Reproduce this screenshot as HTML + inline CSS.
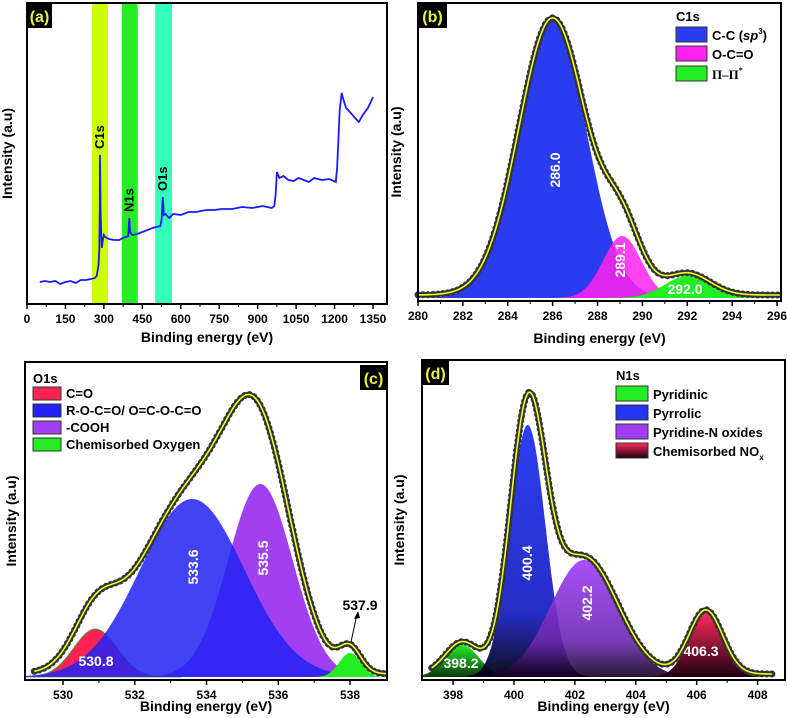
<!DOCTYPE html>
<html><head><meta charset="utf-8"><style>
html,body{margin:0;padding:0;background:#fff;}
svg{display:block;font-family:"Liberation Sans",sans-serif;font-weight:bold;}
</style></head><body>
<svg id="fig" width="787" height="718" viewBox="0 0 787 718">
<defs>
<linearGradient id="gGreen" x1="0" y1="0" x2="0" y2="1"><stop offset="0" stop-color="#22ee22"/><stop offset="1" stop-color="#0a3a0a"/></linearGradient>
<linearGradient id="gBlue" x1="0" y1="0" x2="0" y2="1"><stop offset="0" stop-color="#2235f5"/><stop offset="0.75" stop-color="#1a22c0"/><stop offset="1" stop-color="#000010"/></linearGradient>
<linearGradient id="gPurple" x1="0" y1="0" x2="0" y2="1"><stop offset="0" stop-color="#a03cf5"/><stop offset="0.7" stop-color="#6a28b0"/><stop offset="1" stop-color="#100020"/></linearGradient>
<linearGradient id="gRed" x1="0" y1="0" x2="0" y2="1"><stop offset="0" stop-color="#ff2a5a"/><stop offset="1" stop-color="#200010"/></linearGradient>
</defs>
</svg>
<script>
// ---------- Panel (a) survey data ----------
const surveyE = [50,70,90,110,130,150,170,190,210,230,250,265,272,276,279,282,284,285,287,289,292,296,300,305,320,340,360,375,385,395,399,402,410,430,450,470,490,520,525,530,534,540,555,570,600,630,660,700,730,760,800,840,880,920,955,965,970,975,985,1000,1020,1040,1060,1080,1100,1120,1150,1180,1205,1210,1215,1220,1228,1235,1245,1260,1280,1295,1310,1330,1345,1350];
const surveyI = [22,23,22,23,20,22,23,21,24,24,25,26,28,34,39,54,99,149,94,74,56,64,69,67,65,64,64,66,67,68,86,72,69,70,72,74,76,78,84,107,89,90,86,90,89,92,92,94,94,95,95,97,96,98,96,98,109,132,126,128,124,123,126,124,122,126,124,125,122,136,164,194,211,204,196,192,186,182,189,196,204,207];
const aTicks = [0,150,300,450,600,750,900,1050,1200,1350];
const aBandLabels = ["C1s","N1s","O1s"];
const aBandStart = [254,370,500];
const aBandEnd = [316,432,566];
const aPeakE = [285,399,530];

// ---------- Panel (b) C1s ----------
const bCenters = [286.0,289.1,292.0];
const bHeights = [277,62,22];
const bSigmas = [1.5,0.85,1.0];
const bLabels = ["286.0","289.1","292.0"];
const bTicks = [280,282,284,286,288,290,292,294,296];
const bLegend = ["C-C (sp3)","O-C=O","Π–Π*"];

// ---------- Panel (c) O1s ----------
const cCenters = [530.9,533.6,535.5,538.0];
const cHeights = [48,178,193,24];
const cSigmas = [0.6,1.45,0.9,0.3];
const cLabels = ["530.8","533.6","535.5","537.9"];
const cTicks = [530,532,534,536,538];
const cLegend = ["C=O","R-O-C=O/ O=C-O-C=O","-COOH","Chemisorbed Oxygen"];

// ---------- Panel (d) N1s ----------
const dCenters = [398.3,400.45,402.3,406.3];
const dHeights = [32,252,117,64];
const dSigmas = [0.55,0.58,1.1,0.55];
const dLabels = ["398.2","400.4","402.2","406.3"];
const dTicks = [398,400,402,404,406,408];
const dLegend = ["Pyridinic","Pyrrolic","Pyridine-N oxides","Chemisorbed NO"];

const svg = document.getElementById('fig');
const NS = "http://www.w3.org/2000/svg";
function mk(tag, attrs, parent, text){
  const e = document.createElementNS(NS, tag);
  for (const k in attrs) e.setAttribute(k, attrs[k]);
  if (text !== undefined) e.textContent = text;
  (parent||svg).appendChild(e);
  return e;
}
function lin(d0,d1,r0,r1){ return v => r0 + (v-d0)/(d1-d0)*(r1-r0); }

function frame(g, x0,y0,x1,y1, xs, ticks, minor, titleY, yTitleX, labelTxt, lx, ly, lw){
  const box = mk('rect',{x:x0,y:y0,width:x1-x0,height:y1-y0,fill:'none',stroke:'#000','stroke-width':2},g);
  
  
  ticks.forEach((t,i)=>{
    const x = xs(t);
    const tk = mk('line',{x1:x,y1:y1,x2:x,y2:y1+5,stroke:'#000','stroke-width':1.5},g);
    
    
    const tl = mk('text',{x:x,y:y1+19,'text-anchor':'middle','font-size':12,fill:'#000'},g,String(t));
    
    
    if (i < ticks.length-1){
      const mx = xs(t+minor);
      const mt = mk('line',{x1:mx,y1:y1,x2:mx,y2:y1+3,stroke:'#000','stroke-width':1},g);
      
      
    }
  });
  const xt = mk('text',{x:(x0+x1)/2,y:titleY,'text-anchor':'middle','font-size':14,fill:'#000'},g,'Binding energy (eV)');
  
  
  const yc = (y0+y1)/2;
  const yt = mk('text',{x:yTitleX,y:yc,'text-anchor':'middle','font-size':14,fill:'#000',transform:`rotate(-90 ${yTitleX} ${yc})`},g,'Intensity (a.u)');
  
  
  const lb = mk('rect',{x:lx,y:ly,width:lw,height:25,fill:'#000'},g);
  
  
  const lt = mk('text',{x:lx+lw/2,y:ly+19,'text-anchor':'middle','font-size':16,fill:'#e8f040'},g,labelTxt);
  
  
}

// ===== Panel a =====
(function(){
  const g = mk('g',{});
  
  
  const xs = lin(0,1350,27,373);
  const ys = lin(0,300,304,4);
  const bandColors = ['#ccff00','#22ee22','#33ffbb'];
  aBandStart.forEach((s,i)=>{
    const r = mk('rect',{x:xs(s),y:3,width:xs(aBandEnd[i])-xs(s),height:301,fill:bandColors[i]},g);
    
    
  });
  let d='';
  surveyE.forEach((e,i)=>{ d += (i?'L':'M')+xs(e).toFixed(1)+' '+ys(surveyI[i]).toFixed(1); });
  const p = mk('path',{d:d,fill:'none',stroke:'#1a1aff','stroke-width':1.8},g);
  
  
  aPeakE.forEach((e,i)=>{
    let k=0; let best=1e9;
    surveyE.forEach((se,j)=>{ if (Math.abs(se-e)<best){best=Math.abs(se-e);k=j;} });
    const px = xs(e)+4, py = ys(surveyI[k])-6;
    const t = mk('text',{x:px,y:py,'font-size':13,fill:'#000',transform:`rotate(-90 ${px} ${py})`},g,aBandLabels[i]);
    
    
  });
  frame(g,27,3,387,304,xs,aTicks,75,342,12,'(a)',27,3,25);
})();

function peakPanel(opts){
  const g = mk('g',{});
  
  
  const xs = lin(opts.xmin,opts.xmax,opts.x0,opts.x1);
  const ys = lin(0,300,opts.base,opts.base-300);
  const C=opts.centers,H=opts.heights,S=opts.sigmas;
  const gauss=(i,x)=>H[i]*Math.exp(-0.5*Math.pow((x-C[i])/S[i],2));
  const step=(opts.xmax-opts.xmin)/400;
  const order = opts.order || C.map((c,i)=>i);
  order.forEach(i=>{
    const c = C[i];
    const lo=Math.max(opts.xmin,c-4*S[i]), hi=Math.min(opts.xmax,c+4*S[i]);
    let d='M'+xs(lo).toFixed(1)+' '+ys(0);
    for(let x=lo;x<=hi+1e-9;x+=step/2) d+='L'+xs(x).toFixed(1)+' '+ys(gauss(i,x)).toFixed(1);
    d+='L'+xs(hi).toFixed(1)+' '+ys(0)+'Z';
    const p = mk('path',{d:d,fill:opts.fills[i],'fill-opacity':opts.alpha[i],stroke:opts.strokes?opts.strokes[i]:'none','stroke-width':0.8},g);
    
    
  });
  const env=x=>C.reduce((s,c,i)=>s+gauss(i,x),0)+opts.bg;
  let d='';
  for(let x=opts.emin;x<=opts.emax+1e-9;x+=step) d+=(d?'L':'M')+xs(x).toFixed(1)+' '+ys(env(x)).toFixed(1);
  const e1 = mk('path',{d:d,fill:'none',stroke:'#000','stroke-width':5,'stroke-linejoin':'round'},g);
  
  
  const e2 = mk('path',{d:d,fill:'none',stroke:'#333','stroke-width':7,'stroke-dasharray':'0 5','stroke-linecap':'round'},g);
  
  
  const e3 = mk('path',{d:d,fill:'none',stroke:'#eeff22','stroke-width':1.6},g);
  
  
  opts.labels.forEach((l,i)=>{
    const lp = opts.labelPos[i];
    const attrs={x:lp[0],y:lp[1],'text-anchor':'middle','font-size':14,fill:lp[3]||'#fff'};
    if(lp[2]) attrs.transform=`rotate(-90 ${lp[0]} ${lp[1]})`;
    const t = mk('text',attrs,g,l);
    
    
  });
  frame(g,opts.x0,opts.y0,opts.x1r,opts.base+3,xs,opts.ticks,1,opts.titleY,opts.yTitleX,opts.label,opts.lx,opts.ly,opts.lw);
  const lg = mk('g',{},g);
  
  
  const L=opts.leg;
  const ht = mk('text',{x:L.x,y:L.titleY,'font-size':13,fill:'#000'},lg,L.title);
  
  
  opts.legend.forEach((name,i)=>{
    const y=L.ys[i];
    const r = mk('rect',{x:L.x,y:y,width:L.w,height:L.h,fill:opts.legFills[i],stroke:'#333','stroke-width':1},lg);
    
    
    const t = mk('text',{x:L.x+L.w+5,y:y+L.h-2,'font-size':13,fill:'#000'},lg);
    
    
    if(name==='C-C (sp3)'){ t.innerHTML='C-C (<tspan font-style="italic">sp</tspan><tspan font-size="8" dy="-6">3</tspan><tspan dy="6">)</tspan>'; }
    else if(name==='Π–Π*'){ t.setAttribute('font-family','Liberation Serif'); t.innerHTML='Π–Π<tspan font-size="8" dy="-6">*</tspan>'; }
    else if(name==='Chemisorbed NO'){ t.innerHTML='Chemisorbed NO<tspan font-size="8" dy="4">x</tspan>'; }
    else t.textContent=name;
  });
  return {g,xs,ys};
}

peakPanel({name:'panel-b-c1s',xmin:280,xmax:296,x0:418,x1:777,x1r:781,y0:3,base:298,
  centers:bCenters,heights:bHeights,sigmas:bSigmas,bg:3,emin:280,emax:296.2,
  fills:['#2a3cf0','#ff22ee','#22ee22'],alpha:[1,0.85,1],
  labels:bLabels,labelPos:[[560,170,true],[625,260,true],[685,294,false]],
  ticks:bTicks,titleY:343,yTitleX:401,label:'(b)',lx:418,ly:3,lw:29,
  legend:bLegend,legFills:['#2a3cf0','#ff22ee','#22ee22'],
  leg:{x:676,titleY:21,title:'C1s',ys:[27,46,66],w:31,h:15}});

peakPanel({name:'panel-c-o1s',xmin:528.94,xmax:539.03,x0:25,x1:387,x1r:387,y0:362,base:677,
  centers:cCenters,heights:cHeights,sigmas:cSigmas,bg:3,emin:529.2,emax:539.03,order:[0,2,1,3],
  fills:['#ff2255','#2222f5','#a040f0','#22ee22'],alpha:[1,0.85,1,1],strokes:['#22aa22','none','none','none'],
  labels:cLabels,labelPos:[[96,666,false],[198,567,true],[268,558,true],[360,610,false,'#000']],
  ticks:cTicks,titleY:711,yTitleX:16,label:'(c)',lx:360,ly:365,lw:27,
  legend:cLegend,legFills:['#ff2255','#2222f5','#a040f0','#22ee22'],
  leg:{x:33,titleY:383,title:'O1s',ys:[387,404,421,438],w:28,h:13}});
(function(){
  const a = mk('line',{x1:357,y1:614,x2:351,y2:642,stroke:'#000','stroke-width':1});
  
  
  const h = mk('path',{d:'M358,611 L354,619 L360,618 Z',fill:'#000'});
  
  
})();

peakPanel({name:'panel-d-n1s',xmin:396.98,xmax:408.9,x0:422,x1:785,x1r:785,y0:360,base:677,
  centers:dCenters,heights:dHeights,sigmas:dSigmas,bg:3,emin:397.3,emax:408.5,
  fills:['url(#gGreen)','url(#gBlue)','url(#gPurple)','url(#gRed)'],alpha:[1,0.95,0.9,1],
  labels:dLabels,labelPos:[[461,668,false],[532,563,true],[592,603,true],[701,656,false]],
  ticks:dTicks,titleY:711,yTitleX:404,label:'(d)',lx:422,ly:360,lw:27,
  legend:dLegend,legFills:['#22ee22','#2235f5','#a03cf5','url(#gRed)'],
  leg:{x:616,titleY:380,title:'N1s',ys:[386,405,424,443],w:32,h:15}});
</script>
</body></html>
